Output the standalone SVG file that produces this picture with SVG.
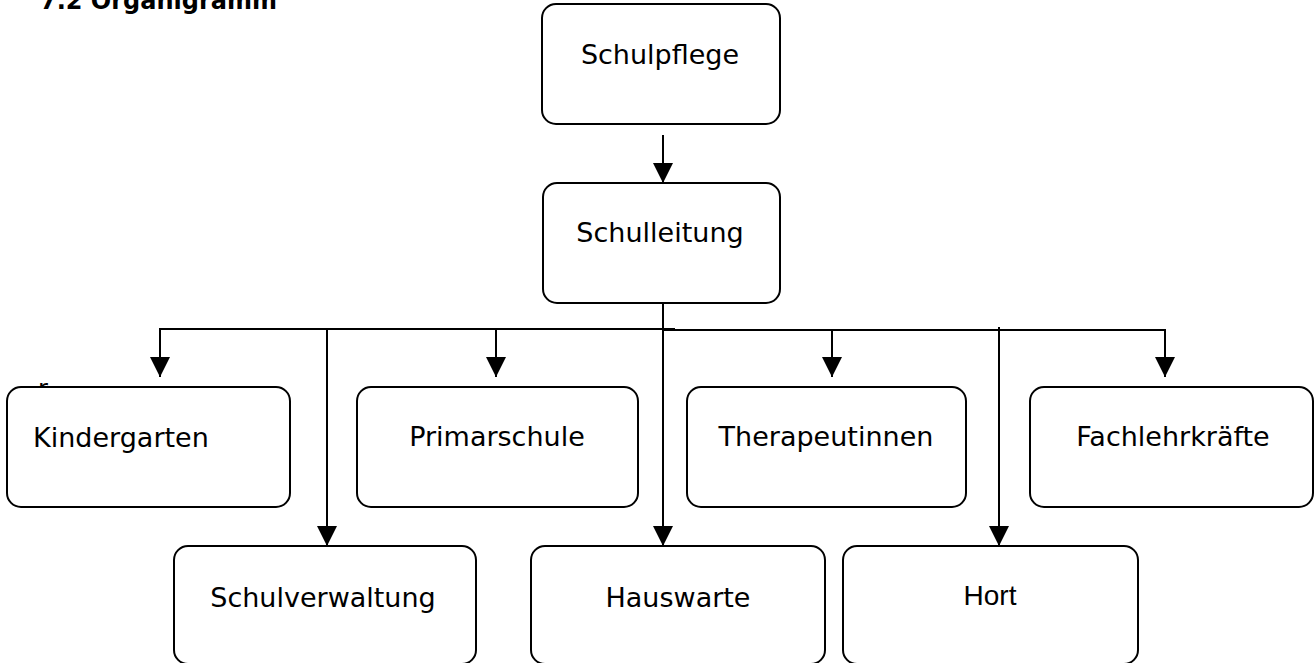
<svg xmlns="http://www.w3.org/2000/svg" width="1316" height="663" viewBox="0 0 1316 663">
<style>
  .box { fill: #ffffff; stroke: #000000; stroke-width: 2; }
  .lbl { font-family: "DejaVu Sans", "Liberation Sans", sans-serif; font-size: 27px; fill: #000000; }
  .arial { font-family: "Liberation Sans", Arial, sans-serif; font-size: 28px; fill: #000000; }
  .title { font-family: "DejaVu Sans", "Liberation Sans", sans-serif; font-size: 24px; font-weight: bold; fill: #000000; }
  .ln { stroke: #000000; stroke-width: 2; fill: none; }
</style>
<defs>
  <marker id="arr" markerUnits="userSpaceOnUse" markerWidth="20" markerHeight="20" refX="20" refY="10" orient="auto">
    <path d="M0,0 L20,10 L0,20 Z" fill="#000000"/>
  </marker>
</defs>
<rect width="1316" height="663" fill="#ffffff"/>
<text class="title" x="40" y="9">7.2 Organigramm</text>
<text class="lbl" x="38" y="397" style="font-size:24px">r</text>

<g id="connectors">
  <line class="ln" x1="663" y1="135" x2="663" y2="183" marker-end="url(#arr)"/>
  <line class="ln" x1="663" y1="303" x2="663" y2="546" marker-end="url(#arr)"/>
  <line class="ln" x1="159" y1="329" x2="675" y2="329"/>
  <line class="ln" x1="663" y1="330" x2="1166" y2="330"/>
  <line class="ln" x1="160" y1="329" x2="160" y2="377" marker-end="url(#arr)"/>
  <line class="ln" x1="327" y1="329" x2="327" y2="546" marker-end="url(#arr)"/>
  <line class="ln" x1="496" y1="329" x2="496" y2="377" marker-end="url(#arr)"/>
  <line class="ln" x1="832" y1="330" x2="832" y2="377" marker-end="url(#arr)"/>
  <line class="ln" x1="999" y1="327" x2="999" y2="546" marker-end="url(#arr)"/>
  <line class="ln" x1="1165" y1="330" x2="1165" y2="377" marker-end="url(#arr)"/>
</g>

<g id="schulpflege">
  <rect class="box" x="542" y="4" width="238" height="120" rx="14"/>
  <text class="lbl" x="660" y="64" text-anchor="middle">Schulpflege</text>
</g>
<g id="schulleitung">
  <rect class="box" x="543" y="183" width="237" height="120" rx="14"/>
  <text class="lbl" x="660" y="242" text-anchor="middle">Schulleitung</text>
</g>
<g id="kindergarten">
  <rect class="box" x="7" y="387" width="283" height="120" rx="14"/>
  <text class="lbl" x="33" y="447">Kindergarten</text>
</g>
<g id="primarschule">
  <rect class="box" x="357" y="387" width="281" height="120" rx="14"/>
  <text class="lbl" x="497" y="446" text-anchor="middle">Primarschule</text>
</g>
<g id="therapeutinnen">
  <rect class="box" x="687" y="387" width="279" height="120" rx="14"/>
  <text class="lbl" x="826" y="446" text-anchor="middle">Therapeutinnen</text>
</g>
<g id="fachlehrkraefte">
  <rect class="box" x="1030" y="387" width="283" height="120" rx="14"/>
  <text class="lbl" x="1173" y="446" text-anchor="middle">Fachlehrkräfte</text>
</g>
<g id="schulverwaltung">
  <rect class="box" x="174" y="546" width="302" height="118" rx="14"/>
  <text class="lbl" x="323" y="607" text-anchor="middle">Schulverwaltung</text>
</g>
<g id="hauswarte">
  <rect class="box" x="531" y="546" width="294" height="118" rx="14"/>
  <text class="lbl" x="678" y="607" text-anchor="middle">Hauswarte</text>
</g>
<g id="hort">
  <rect class="box" x="843" y="546" width="295" height="118" rx="14"/>
  <text class="arial" x="990" y="605" text-anchor="middle">Hort</text>
</g>
</svg>
